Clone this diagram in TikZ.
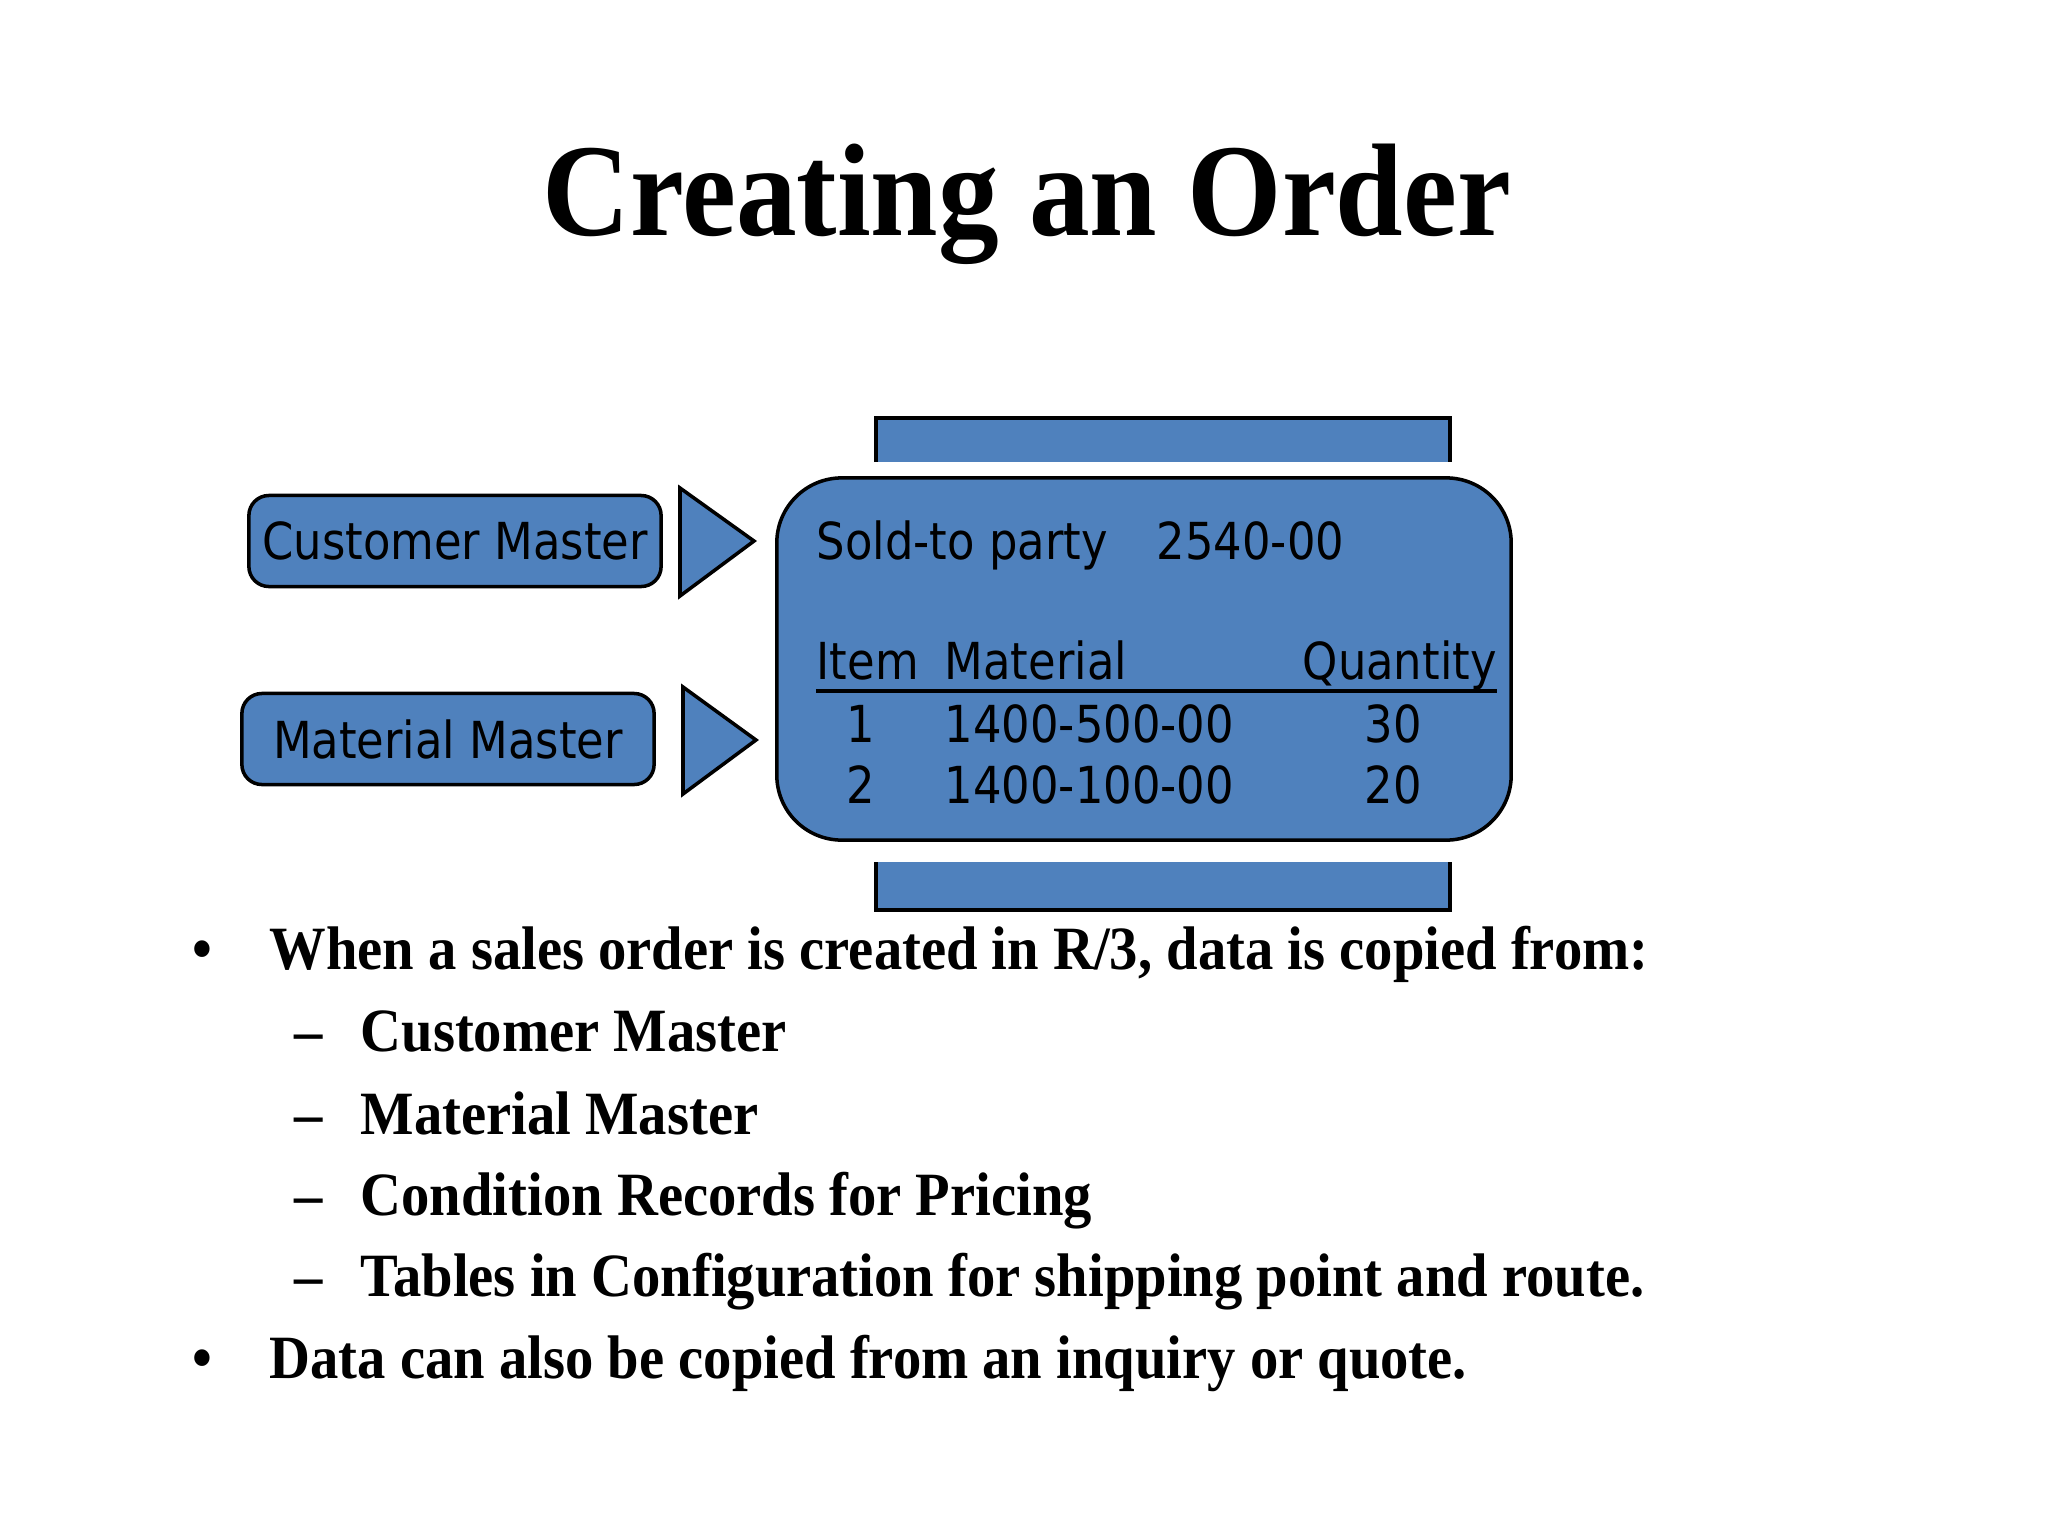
\documentclass[tikz,border=0pt]{standalone}
\usepackage{fontspec}
\setmainfont{Liberation Serif}[FakeStretch=0.92]
\newfontfamily\boxfont{DejaVu Sans}[FakeStretch=0.88]
\usetikzlibrary{positioning}
\definecolor{orderblue}{RGB}{79,129,189}
\tikzstyle{master} = [rectangle, rounded corners=0.2cm, minimum width=4.12cm, minimum height=0.91cm, text centered, draw=black, line width=1pt, fill=orderblue, font=\boxfont\fontsize{14.5}{17}\selectfont, inner sep=0pt]
\tikzstyle{orderbox} = [rectangle, rounded corners=0.65cm, minimum width=7.34cm, minimum height=3.62cm, draw=black, line width=1pt, fill=orderblue]
\tikzstyle{field} = [anchor=base west, inner sep=0pt, font=\boxfont\fontsize{14.5}{17}\selectfont]
\tikzstyle{num} = [anchor=base, inner sep=0pt, font=\boxfont\fontsize{14.5}{17}\selectfont]
\tikzstyle{bullettext} = [anchor=base west, inner sep=0pt, font=\fontsize{17.5}{21}\selectfont\bfseries]
\tikzstyle{pointer} = [draw=black, line width=1pt, fill=orderblue, line join=miter]

\begin{document}
\begin{tikzpicture}[x=0.01cm, y=-0.01cm]
        \useasboundingbox (0,0) rectangle (2048,1536);
        \node(title) [anchor=base, inner sep=0pt, font=\fontsize{37.5}{45}\selectfont\bfseries] at (1027,235) {Creating an Order};
        % paper strips above and below the order
        \fill [orderblue] (876,418) rectangle (1450,462);
        \draw [line width=1pt] (876,462) |- (1450,418) -- (1450,462);
        \fill [orderblue] (876,862) rectangle (1450,910);
        \draw [line width=1pt] (876,862) |- (1450,910) -- (1450,862);
        \node(order) [orderbox] at (1144,659) {};
        \node(cust) [master] at (455,541) {Customer Master};
        \node(mat) [master] at (448,739) {Material Master};
        \draw [pointer] (680,488) -- (754,541) -- (680,596) -- cycle;
        \draw [pointer] (683,687) -- (756,740) -- (683,794) -- cycle;
        % order contents
        \node(sold) [field] at (816,559) {Sold-to party};
        \node(party) [field] at (1156,559) {2540-00};
        \node(hitem) [field] at (816,679) {Item};
        \node(hmat) [field] at (944,679) {Material};
        \node(hqty) [field] at (1302,679) {Quantity};
        \draw [line width=1.1pt] ([yshift=-3.5pt]hitem.base west) -- ([yshift=-3.5pt]hqty.base east);
        \node(i1) [num] at (861,742) {1};
        \node(m1) [field] at (944,742) {1400-500-00};
        \node(q1) [num] at (1393,742) {30};
        \node(i2) [num] at (861,803) {2};
        \node(m2) [field] at (944,803) {1400-100-00};
        \node(q2) [num] at (1393,803) {20};
        % bullet list
        \node(dot1) [bullettext, anchor=base] at (202,969) {\textbullet};
        \node(b1) [bullettext] at (269,969) {When a sales order is created in R/3, data is copied from:};
        \node(d1) [bullettext] at (294,1051) {--};
        \node(s1) [bullettext] at (360,1051) {Customer Master};
        \node(d2) [bullettext] at (294,1134) {--};
        \node(s2) [bullettext] at (360,1134) {Material Master};
        \node(d3) [bullettext] at (294,1215) {--};
        \node(s3) [bullettext] at (360,1215) {Condition Records for Pricing};
        \node(d4) [bullettext] at (294,1296) {--};
        \node(s4) [bullettext] at (360,1296) {Tables in Configuration for shipping point and route.};
        \node(dot2) [bullettext, anchor=base] at (202,1378) {\textbullet};
        \node(b2) [bullettext] at (269,1378) {Data can also be copied from an inquiry or quote.};
    \end{tikzpicture}
\end{document}
